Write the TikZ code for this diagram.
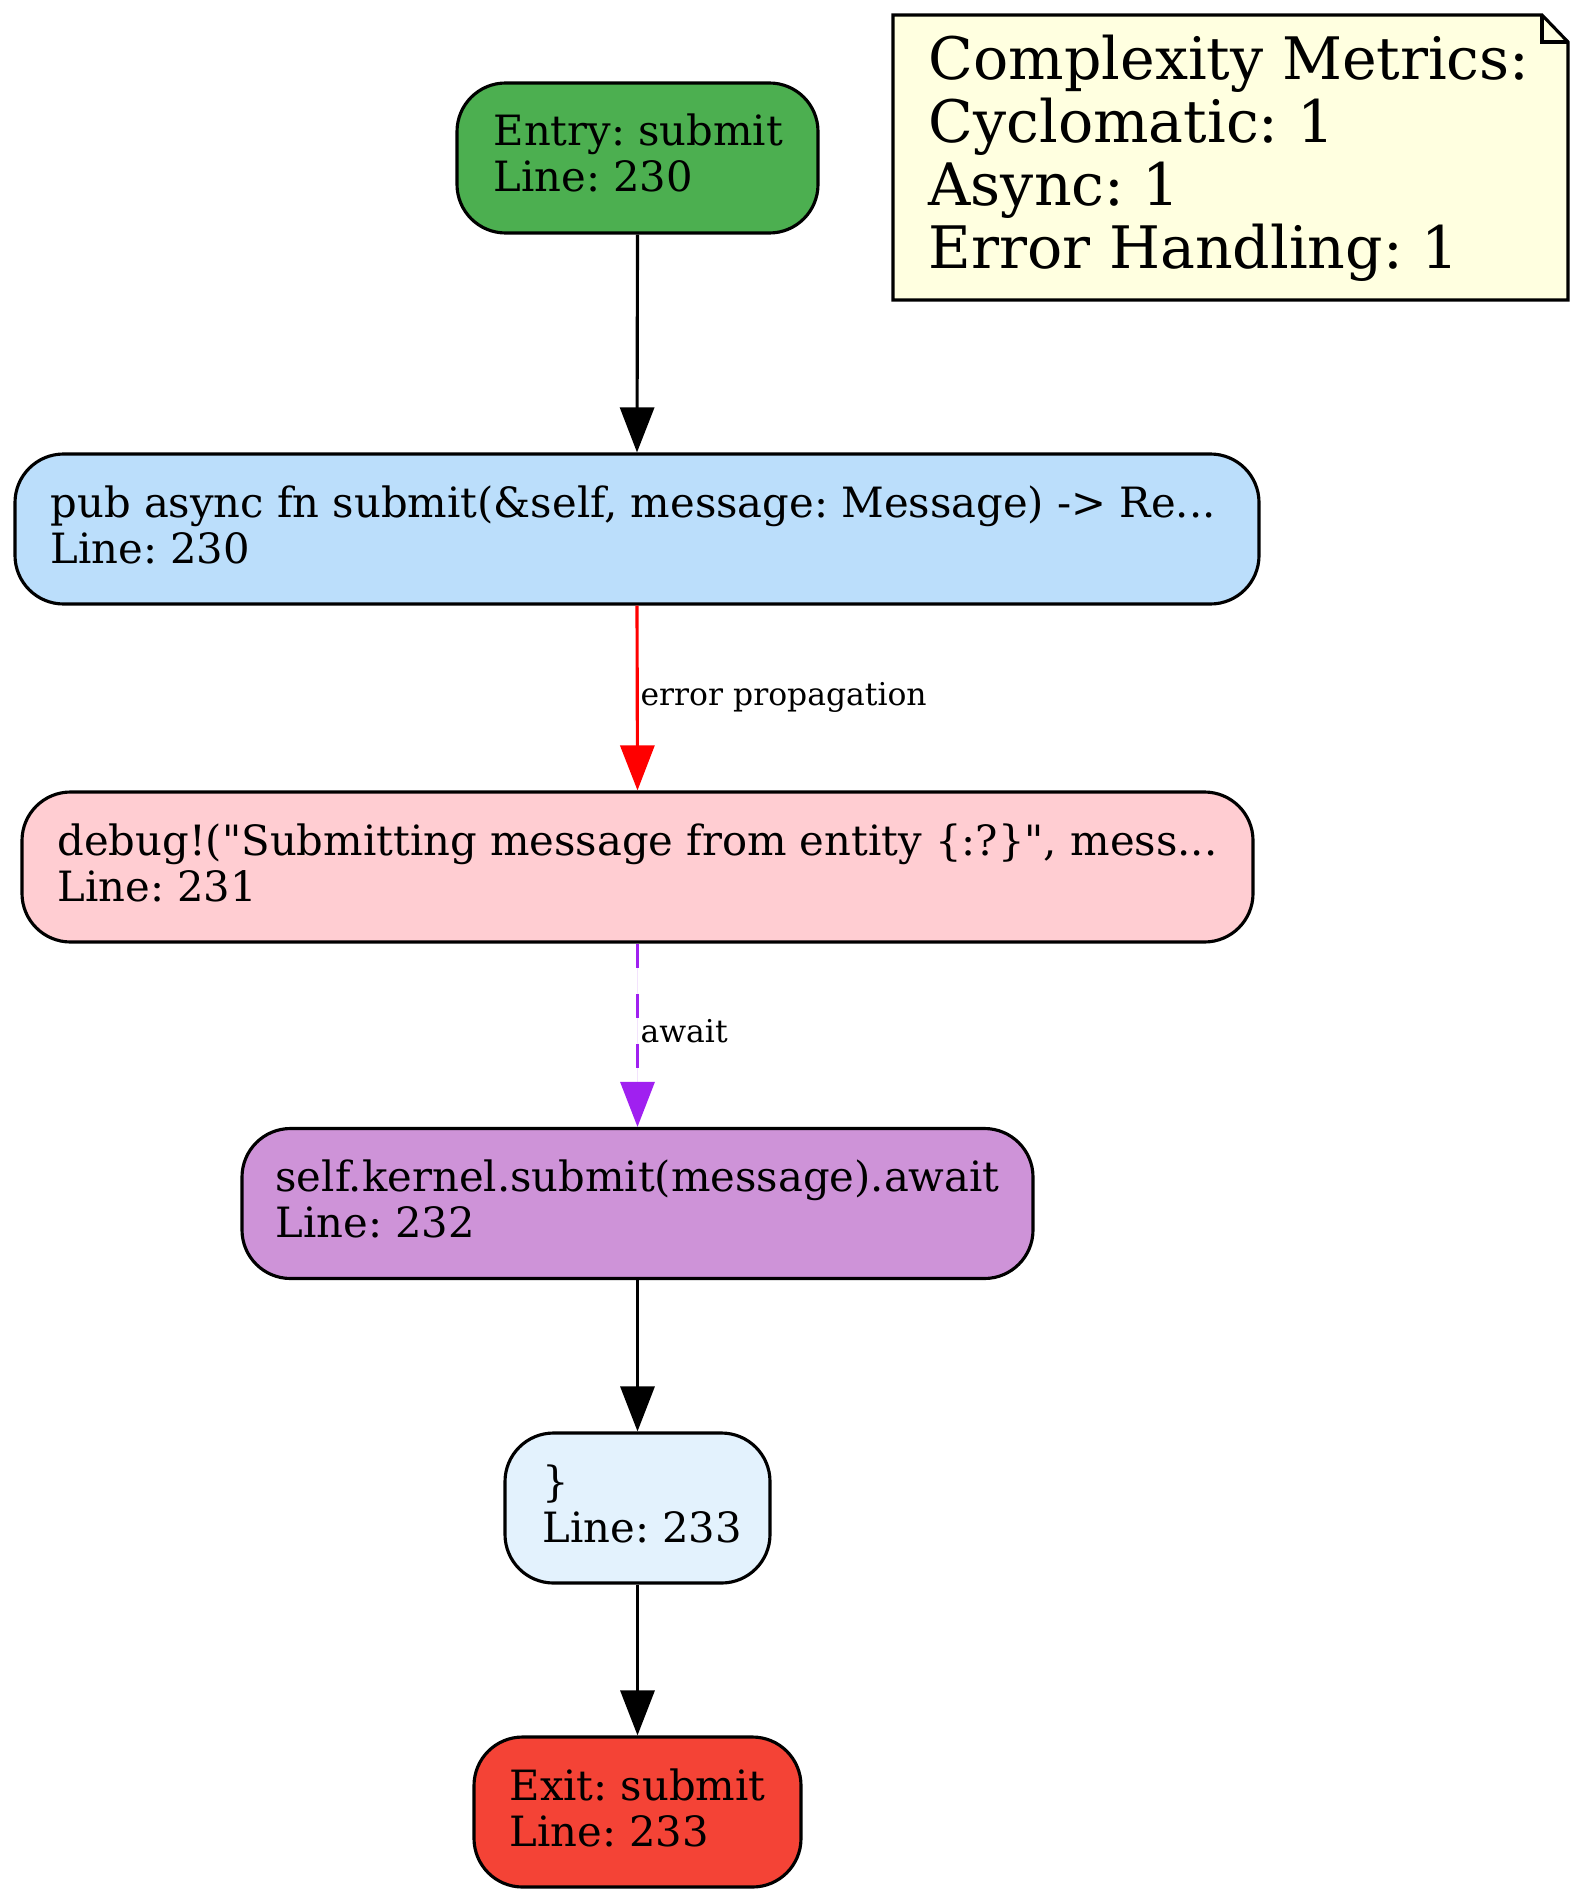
\documentclass[tikz,border=0pt]{standalone}
\usepackage{fontspec}
\setmainfont{DejaVu Serif}[Ligatures=TeXOff]
\usetikzlibrary{arrows.meta}
\definecolor{cEntry}{HTML}{4CAF50}
\definecolor{cStmt}{HTML}{BBDEFB}
\definecolor{cDebug}{HTML}{FFCDD2}
\definecolor{cAwait}{HTML}{CE93D8}
\definecolor{cBrace}{HTML}{E3F2FD}
\definecolor{cExit}{HTML}{F44336}
\definecolor{cNote}{HTML}{FFFFE0}
\definecolor{cErr}{HTML}{FF0000}
\definecolor{cPurple}{HTML}{A020F0}
\frenchspacing
\newcommand{\twol}[2]{\vtop{\hbox{#1}\hbox{#2}}}
\newcommand{\fourl}[4]{\vtop{\hbox{#1}\hbox{#2}\hbox{#3}\hbox{#4}}}
\newcommand{\dq}{\char34\relax}
\tikzset{
  flowbox/.style={draw=black, line width=1.1pt, rounded corners=17pt, inner sep=0pt, minimum height=150*0.35pt},
  nodetext/.style={anchor=base west, inner sep=0pt, font=\fontsize{14.6pt}{16.1pt}\selectfont},
  notetext/.style={anchor=base west, inner sep=0pt, font=\fontsize{20.5pt}{22pt}\selectfont},
  edgelabel/.style={anchor=base west, inner sep=0pt, font=\fontsize{11pt}{13pt}\selectfont},
  flowedge/.style={line width=1.1pt, -{Triangle[length=45*0.35pt, width=34*0.35pt]}},
}
\begin{document}
\begin{tikzpicture}[x=0.35pt, y=-0.35pt]
\useasboundingbox (0,0) rectangle (1581,1904);
% note
\draw[line width=1.1pt, fill=cNote] (893,15) -- (1542,15) -- (1568,42) -- (1568,300) -- (893,300) -- cycle;
\draw[line width=1.1pt] (1542,15) -- (1542,42) -- (1568,42);
\node[notetext] (noteT) at (928,80) {\fourl{Complexity Metrics:}{Cyclomatic: 1}{Async: 1}{Error Handling: 1}};
% nodes
\node[flowbox, fill=cEntry, minimum width=361*0.35pt] (entry) at (637.5,158) {};
\node[nodetext] (entryT) at (493,146) {\twol{Entry: submit}{Line: 230}};
\node[flowbox, fill=cStmt, minimum width=1244*0.35pt] (stmt) at (637,529) {};
\node[nodetext] (stmtT) at (50,517) {\twol{pub async fn submit(\&self, message: Message) -> Re...}{Line: 230}};
\node[flowbox, fill=cDebug, minimum width=1231*0.35pt] (dbg) at (637.5,867) {};
\node[nodetext] (dbgT) at (57,855) {\twol{debug!(\dq Submitting message from entity \{:?\}\dq, mess...}{Line: 231}};
\node[flowbox, fill=cAwait, minimum width=791*0.35pt] (await) at (637.5,1203.5) {};
\node[nodetext] (awaitT) at (275,1191) {\twol{self.kernel.submit(message).await}{Line: 232}};
\node[flowbox, fill=cBrace, minimum width=265*0.35pt] (brace) at (637.5,1508) {};
\node[nodetext] (braceT) at (542,1496) {\twol{\}}{Line: 233}};
\node[flowbox, fill=cExit, minimum width=327*0.35pt] (exit) at (637.5,1812) {};
\node[nodetext] (exitT) at (509,1800) {\twol{Exit: submit}{Line: 233}};
% edges
\draw[flowedge] (entry.south) -- (stmt.north);
\draw[flowedge, draw=cErr, fill=cErr] (stmt.south) -- (dbg.north);
\node[edgelabel] (errL) at (640,705) {error propagation};
\draw[flowedge, draw=cPurple, fill=cPurple, dash pattern=on 24*0.35pt off 26*0.35pt] (dbg.south) -- (await.north);
\node[edgelabel] (awaitL) at (640,1042) {await};
\draw[flowedge] (await.south) -- (brace.north);
\draw[flowedge] (brace.south) -- (exit.north);
\end{tikzpicture}
\end{document}
